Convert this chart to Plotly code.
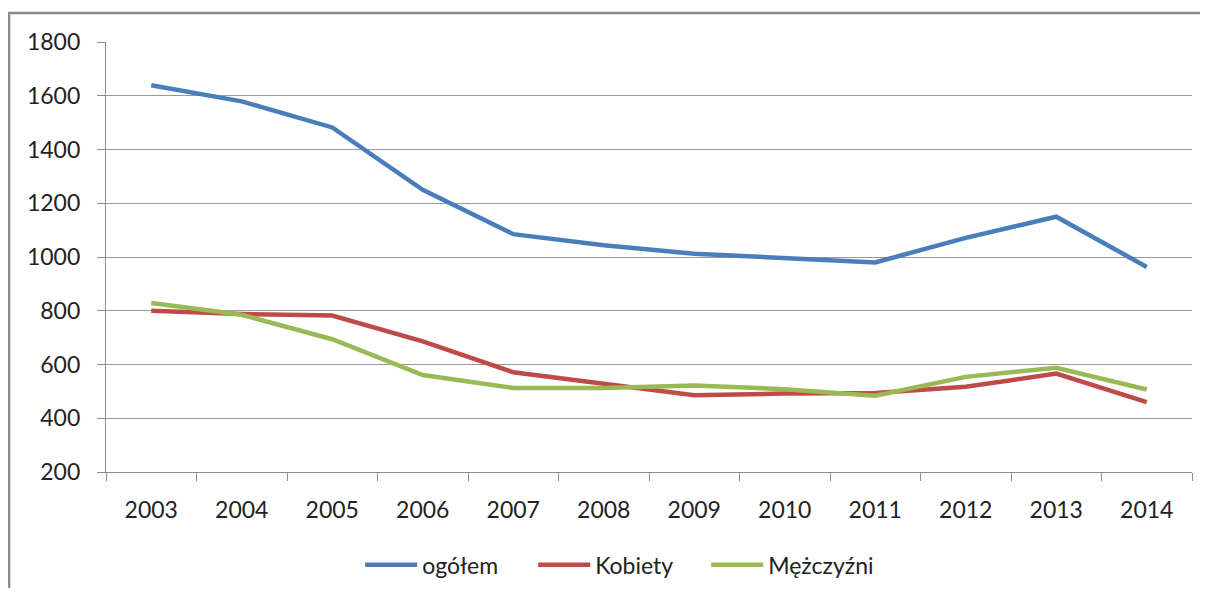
import plotly.graph_objects as go

years = ["2003", "2004", "2005", "2006", "2007", "2008", "2009", "2010", "2011", "2012", "2013", "2014"]
ogolem = [1639, 1579, 1482, 1250, 1085, 1044, 1012, 997, 980, 1071, 1150, 963]
kobiety = [800, 788, 782, 686, 571, 529, 486, 492, 494, 517, 566, 460]
mezczyzni = [829, 785, 694, 561, 513, 513, 522, 508, 484, 554, 588, 507]

series = [("ogółem", ogolem, "#4A7EBB"), ("Kobiety", kobiety, "#BE4B48"), ("Mężczyźni", mezczyzni, "#98B954")]

fig = go.Figure()
for name, vals, col in series:
    fig.add_trace(go.Scatter(x=years, y=vals, name=name, mode="lines",
                             line=dict(color=col, width=4.5)))

font = dict(family="Lato, Carlito, Calibri, sans-serif", size=23, color="#222222")
fig.update_layout(
    width=1192, height=580,
    margin=dict(l=98, r=8, t=34, b=116, autoexpand=False),
    paper_bgcolor="white", plot_bgcolor="white",
    font=font,
    showlegend=True,
    legend=dict(orientation="h", x=0.473, xanchor="center", y=-0.216, yanchor="middle",
                font=font, itemwidth=52, entrywidth=106),
    xaxis=dict(type="category", tickson="boundaries", ticks="outside", ticklen=8,
               range=[-0.5, 11.5], automargin=False,
               tickcolor="#8c8c8c", showline=True, linecolor="#8c8c8c", linewidth=1.3,
               showgrid=False, tickfont=font, ticklabelstandoff=17),
    yaxis=dict(range=[200, 1800], dtick=200, tick0=200, ticks="outside", ticklen=8,
               automargin=False,
               tickcolor="#8c8c8c", showline=True, linecolor="#8c8c8c", linewidth=1.3,
               showgrid=True, gridcolor="#999999", gridwidth=1.3, zeroline=False,
               tickfont=font, ticklabelstandoff=12),
    shapes=[dict(type="rect", xref="paper", yref="paper", x0=-0.0893, x1=1.03,
                 y0=-0.35, y1=1.0674, line=dict(color="#8a8a8a", width=2.5),
                 fillcolor="rgba(0,0,0,0)", layer="below")],
)
fig.write_html("out.html")
